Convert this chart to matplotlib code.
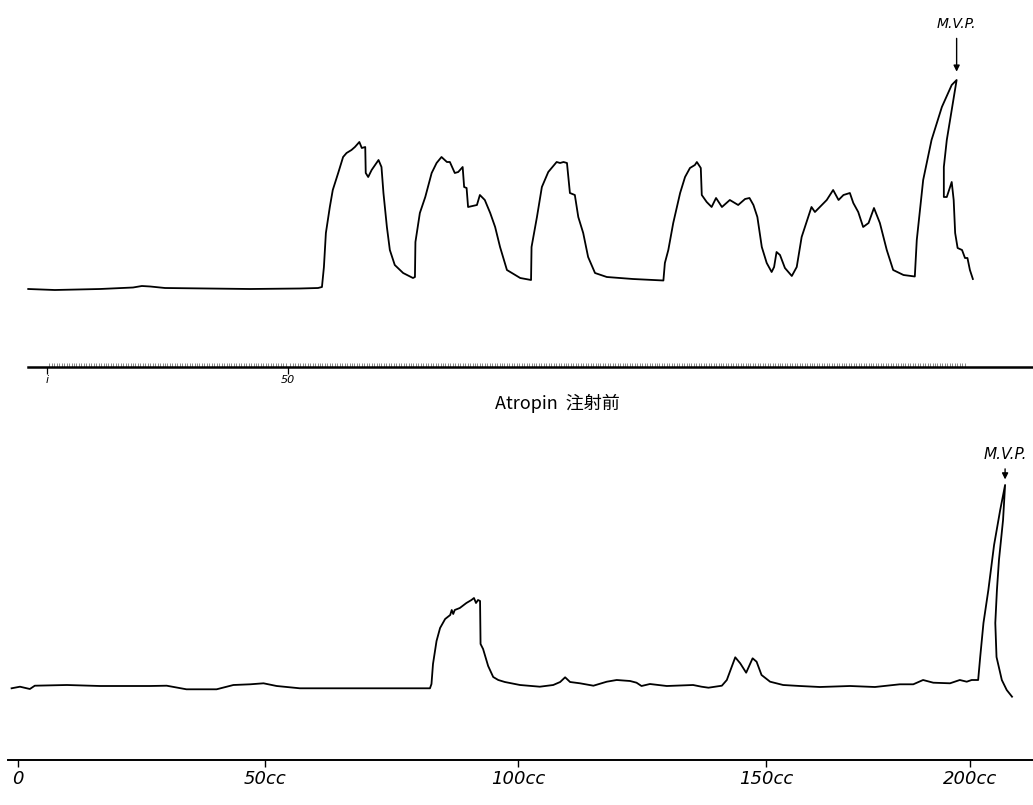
import numpy as np
import matplotlib.pyplot as plt
from matplotlib.ticker import FixedLocator, NullFormatter

plt.rcParams['font.family'] = ['DejaVu Sans']

# upper record (before Atropin): time marks vs. bladder pressure
top_time = [-2.8, 2.6, 11.8, 18.5, 20.3, 22.0, 25.0, 42.3, 52.4, 56.1,
            56.9, 57.3, 57.7, 58.5, 59.1, 60.2, 61.2, 61.9, 62.9, 63.6,
            64.5, 65.0, 65.7, 65.8, 66.3, 67.0, 67.7, 68.4, 69.0, 69.4,
            70.1, 70.7, 71.7, 73.4, 75.4, 75.8, 75.9, 76.8, 77.9, 79.2,
            80.2, 81.2, 82.3, 82.9, 83.9, 84.6, 85.5, 85.8, 86.3, 86.6,
            88.4, 89.0, 90.0, 91.1, 92.1, 93.1, 94.5, 97.2, 99.4, 99.5,
            100.6, 101.6, 102.9, 104.6, 105.3, 106.0, 106.7, 107.3, 108.3, 109.0,
            110.0, 111.0, 112.4, 114.8, 120.1, 126.3, 126.6, 127.3, 128.3, 129.7,
            130.7, 131.7, 132.7, 133.1, 133.9, 134.1, 135.1, 136.1, 137.0, 138.2,
            139.8, 141.5, 142.9, 143.8, 144.6, 145.4, 146.3, 147.3, 148.3, 148.8,
            149.3, 150.0, 151.0, 152.4, 153.4, 154.4, 155.4, 156.4, 157.1, 158.1,
            159.5, 160.8, 161.9, 162.9, 164.2, 164.9, 165.9, 166.9, 168.0, 169.1,
            170.3, 171.7, 173.0, 175.1, 177.4, 177.8, 179.1, 180.8, 182.9, 184.9,
            185.9, 184.9, 183.9, 183.3, 183.3, 183.9, 184.9, 185.3, 185.6, 186.1,
            187.0, 187.6, 188.1, 188.6, 189.2]
top_press = [0.0, -0.1, 0.0, 0.15, 0.3, 0.25, 0.1, 0.0, 0.05, 0.1,
             0.2, 2.2, 5.6, 8.2, 9.9, 11.6, 13.2, 13.6, 13.9, 14.2,
             14.7, 14.1, 14.2, 11.6, 11.2, 11.9, 12.4, 12.9, 12.2, 9.6,
             6.2, 3.9, 2.4, 1.6, 1.1, 1.2, 4.7, 7.6, 9.2, 11.6,
             12.6, 13.2, 12.7, 12.7, 11.6, 11.7, 12.2, 10.2, 10.1, 8.2,
             8.4, 9.4, 8.9, 7.6, 6.2, 4.2, 1.9, 1.1, 0.9, 4.2,
             7.2, 10.2, 11.7, 12.7, 12.6, 12.7, 12.6, 9.6, 9.4, 7.2,
             5.6, 3.2, 1.6, 1.2, 1.0, 0.85, 2.6, 3.9, 6.6, 9.6,
             11.2, 12.1, 12.4, 12.7, 12.1, 9.4, 8.7, 8.2, 9.1, 8.2,
             8.9, 8.4, 9.0, 9.1, 8.4, 7.2, 4.2, 2.6, 1.7, 2.2,
             3.7, 3.4, 2.1, 1.3, 2.2, 5.2, 6.7, 8.2, 7.7, 8.2,
             8.9, 9.9, 8.9, 9.4, 9.6, 8.6, 7.7, 6.2, 6.6, 8.1,
             6.6, 3.9, 1.9, 1.4, 1.25, 4.9, 10.9, 14.9, 18.2, 20.4,
             20.9, 17.9, 14.9, 12.2, 9.2, 9.2, 10.7, 8.9, 5.6, 4.1,
             3.9, 3.1, 3.1, 1.9, 1.0]
time_ticks = [1, 50]
time_labels = ['i', '50']

# lower record: infused volume (cc) vs. bladder pressure
bot_vol = [-1.3, 0.4, 2.4, 3.4, 9.9, 16.6, 26.7, 30.1, 34.1, 40.2,
           43.6, 47.0, 49.7, 52.3, 56.9, 70.1, 82.6, 82.9, 83.2, 83.9,
           84.6, 85.6, 86.6, 86.9, 87.2, 87.5, 88.5, 89.8, 90.8, 91.3,
           91.7, 92.1, 92.5, 92.6, 93.1, 94.1, 95.1, 96.1, 97.4, 100.4,
           104.4, 107.1, 108.5, 109.5, 110.5, 112.5, 115.2, 117.9, 119.9, 122.6,
           123.9, 124.9, 126.6, 130.0, 135.3, 137.0, 138.4, 141.1, 142.1, 143.8,
           144.8, 146.0, 147.3, 148.1, 149.1, 151.0, 154.2, 158.3, 163.2, 170.6,
           176.7, 182.8, 186.1, 188.5, 191.0, 195.1, 197.5, 199.2, 200.4, 202.0,
           202.5, 203.3, 204.5, 205.9, 207.4, 208.6, 208.1, 207.1, 206.6, 206.2,
           206.5, 207.8, 209.0, 210.3]
bot_press = [-0.13, 0.03, -0.2, 0.13, 0.2, 0.1, 0.1, 0.13, -0.23, -0.23,
             0.2, 0.27, 0.37, 0.1, -0.13, -0.13, -0.13, 0.3, 2.3, 4.6,
             5.9, 6.8, 7.2, 7.7, 7.3, 7.7, 7.9, 8.4, 8.7, 8.9,
             8.4, 8.7, 8.6, 4.3, 3.8, 2.1, 1.0, 0.7, 0.5, 0.2,
             0.03, 0.2, 0.5, 0.97, 0.5, 0.37, 0.13, 0.53, 0.7, 0.6,
             0.43, 0.1, 0.3, 0.1, 0.2, 0.03, -0.07, 0.13, 0.7, 2.97,
             2.37, 1.43, 2.87, 2.53, 1.2, 0.53, 0.2, 0.1, 0.0, 0.1,
             0.0, 0.27, 0.27, 0.7, 0.43, 0.37, 0.7, 0.53, 0.7, 0.7,
             3.0, 6.4, 9.7, 14.2, 17.7, 20.2, 16.7, 12.7, 9.7, 6.4,
             3.0, 0.7, -0.3, -0.97]
vol_ticks = [0, 50, 100, 150, 200]
vol_labels = ['0', '50cc', '100cc', '150cc', '200cc']
# the hand-drawn volume scale is not evenly spaced
vol_ref = [-20, 0, 50, 100, 150, 200, 240]
vol_px = [-80.8, 18, 265, 518, 766, 970, 1133.2]

W, H = 1033, 805
fig = plt.figure(figsize=(W / 100, H / 100), dpi=100)

# ---- upper panel ----
ax1 = fig.add_axes([0, (H - 430) / H, 1, 430 / H])
ax1.plot(top_time, top_press, color='black', lw=1.3, solid_joinstyle='round')
ax1.set_xlim(-42 / 4.92, (W - 42) / 4.92)
ax1.set_ylim(-14.1, 28.9)
for s in ['top', 'left', 'right']:
    ax1.spines[s].set_visible(False)
ax1.spines['bottom'].set_position(('data', -7.8))
ax1.spines['bottom'].set_bounds(-2.8, 201.4)
ax1.spines['bottom'].set_linewidth(1.8)
ax1.set_yticks([])
ax1.xaxis.set_major_locator(FixedLocator(time_ticks))
ax1.set_xticklabels(time_labels, fontsize=8, style='italic')
ax1.xaxis.set_minor_locator(FixedLocator(np.arange(1.5, 188, 0.5)))
ax1.xaxis.set_minor_formatter(NullFormatter())
ax1.tick_params(axis='x', which='major', direction='out', length=5, width=0.9, pad=1)
ax1.tick_params(axis='x', which='minor', direction='in', length=3, width=0.5, color='0.35')

i_top = int(np.argmax(top_press))
ax1.annotate('M.V.P.', xy=(top_time[i_top], top_press[i_top]), xytext=(0, 40),
             textcoords='offset points', ha='center', va='center',
             fontsize=10, style='italic',
             arrowprops=dict(arrowstyle='-|>', color='black', lw=1,
                             mutation_scale=9, shrinkA=3, shrinkB=6))

fig.text(557 / W, 1 - 403 / H, 'Atropin  注射前', ha='center', va='center',
         fontsize=13, family=['Noto Sans CJK JP', 'DejaVu Sans'])

# ---- lower panel ----
ax2 = fig.add_axes([0, 0, 1, (H - 430) / H])
fwd = lambda v: np.interp(v, vol_ref, vol_px)
inv = lambda x: np.interp(x, vol_px, vol_ref)
ax2.set_xscale('function', functions=(fwd, inv))
ax2.plot(bot_vol, bot_press, color='black', lw=1.3, solid_joinstyle='round')
ax2.set_xlim(inv(0), inv(W))
ax2.set_ylim(-11.8, 25.7)
for s in ['top', 'left', 'right']:
    ax2.spines[s].set_visible(False)
ax2.spines['bottom'].set_position(('data', -7.3))
ax2.spines['bottom'].set_bounds(inv(8), inv(W))
ax2.spines['bottom'].set_linewidth(1.4)
ax2.set_yticks([])
ax2.xaxis.set_major_locator(FixedLocator(vol_ticks))
ax2.xaxis.set_minor_locator(FixedLocator([]))
ax2.set_xticklabels(vol_labels, fontsize=13, style='italic')
ax2.tick_params(axis='x', direction='out', length=5, width=1, pad=2)

i_bot = int(np.argmax(bot_press))
ax2.annotate('M.V.P.', xy=(bot_vol[i_bot], bot_press[i_bot]), xytext=(0, 22),
             textcoords='offset points', ha='center', va='center',
             fontsize=11, style='italic',
             arrowprops=dict(arrowstyle='-|>', color='black', lw=1,
                             mutation_scale=9, shrinkA=3, shrinkB=4))

fig.savefig('out.png', dpi=100)
